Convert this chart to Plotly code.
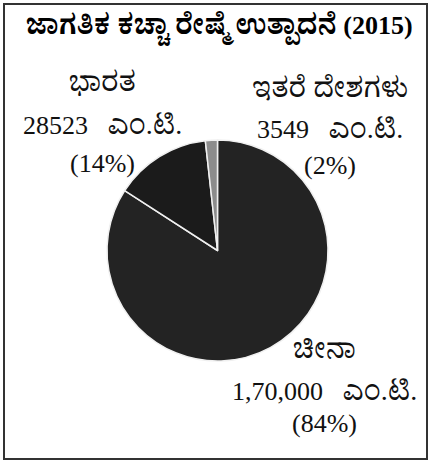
import plotly.graph_objects as go

W, H = 430, 469
countries = ["ಚೀನಾ", "ಭಾರತ", "ಇತರೆ ದೇಶಗಳು"]
values = [170000, 28523, 3549]
value_labels = ["1,70,000", "28523", "3549"]
percent_labels = ["(84%)", "(14%)", "(2%)"]
unit = "ಎಂ.ಟಿ."
title_kn = "ಜಾಗತಿಕ ಕಚ್ಚಾ ರೇಷ್ಮೆ ಉತ್ಪಾದನೆ"
title_year = "(2015)"
colors = ["#232323", "#1b1b1b", "#8c8c8c"]

SERIF = "Liberation Serif, Noto Serif Kannada, Noto Sans Kannada, serif"

def px(x):
    return x / W

def py(y):
    return 1 - y / H

def kn(t, size=28):
    return f"<span style='font-size:{size}px'>{t}</span>"

fig = go.Figure(go.Pie(
    labels=countries, values=values, sort=False, direction="clockwise", rotation=0,
    marker=dict(colors=colors, line=dict(color="#f0f0f0", width=1.5)),
    textinfo="none", hoverinfo="label+value+percent", showlegend=False,
    domain=dict(x=[px(107), px(328)], y=[py(361), py(140)]),
))

pos = {
    0: (324, [348, 390, 423]),
    1: (102, [82, 125, 163]),
    2: (330, [87, 128, 165]),
}
GAP = "\u00a0\u00a0\u00a0"
anns = []
for i in range(3):
    x, ys = pos[i]
    texts = [kn(countries[i]), f"{value_labels[i]}{GAP}{kn(unit, 28)}", percent_labels[i]]
    for t, y in zip(texts, ys):
        anns.append(dict(text=t, x=px(x), y=py(y), xref="paper", yref="paper",
                         showarrow=False, xanchor="center", yanchor="middle",
                         font=dict(family=SERIF, size=26, color="#111111")))
anns.append(dict(text=f"<b>{kn(title_kn, 28)} {title_year}</b>", x=px(219), y=py(28),
                 xref="paper", yref="paper", showarrow=False, xanchor="center", yanchor="middle",
                 font=dict(family=SERIF, size=26, color="#000000")))

fig.update_layout(
    width=W, height=H, margin=dict(l=0, r=0, t=0, b=0),
    paper_bgcolor="white", plot_bgcolor="white",
    annotations=anns,
    shapes=[dict(type="rect", xref="paper", yref="paper",
                 x0=px(4), x1=px(427), y0=py(459), y1=py(4),
                 line=dict(color="#333333", width=2))],
)
fig.write_html("out.html", config={"displayModeBar": False},
               post_script="document.body.style.margin='0';")
